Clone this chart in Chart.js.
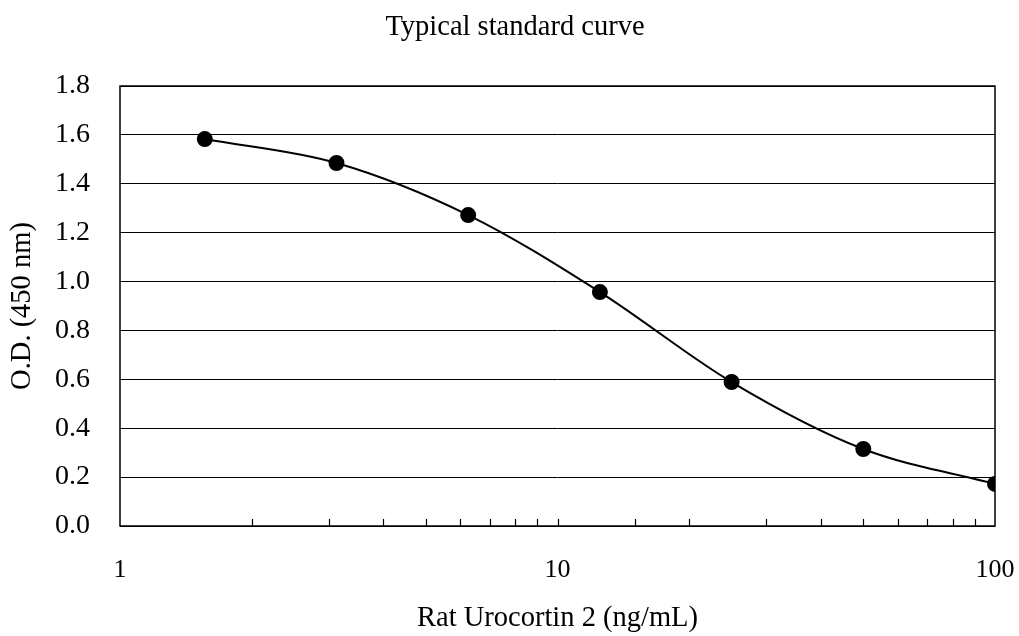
<!DOCTYPE html>
<html>
<head>
<meta charset="utf-8">
<script src="https://cdn.jsdelivr.net/npm/chart.js@4"></script>
<style>
html,body{margin:0;padding:0;background:#fff;}
#wrap{width:1019px;height:636px;}
</style>
</head>
<body>
<div id="wrap"><canvas id="c"></canvas></div>
<script>
/* standard curve data */
const concentrations=[1.5625,3.125,6.25,12.5,25,50,100];
const odValues=[1.583,1.485,1.272,0.957,0.589,0.315,0.172];
const xMajorTicks=[1,10,100];
const yMin=0,yMax=1.8,yStep=0.2;
const chartTitle='Typical standard curve';
const xTitle='Rat Urocortin 2 (ng/mL)';
const yTitle='O.D. (450 nm)';

const serif="'Liberation Serif','Times New Roman',serif";
Chart.defaults.font.family=serif;
Chart.defaults.color='#000';

// title (sits a little right of centre in the original), frame round the plot,
// and the small inward minor ticks on the log axis
const framePlugin={
  id:'frame',
  afterDraw(chart){
    const {ctx,chartArea:a,scales:{x}}=chart;
    ctx.save();
    ctx.fillStyle='#000';
    ctx.font='28.5px '+serif;
    ctx.textAlign='center';ctx.textBaseline='alphabetic';
    ctx.fillText(chartTitle,515,35);
    ctx.strokeStyle='#000';
    ctx.lineWidth=1.5;
    ctx.strokeRect(a.left,a.top,a.right-a.left,a.bottom-a.top);
    ctx.lineWidth=1.2;
    x.ticks.forEach(t=>{
      if(t.value<=x.min||t.value>=x.max)return;
      const px=Math.round(x.getPixelForValue(t.value))+0.5;
      ctx.beginPath();ctx.moveTo(px,a.bottom);ctx.lineTo(px,a.bottom-7);ctx.stroke();
    });
    ctx.restore();
  }
};

new Chart(document.getElementById('c'),{
  type:'line',
  data:{datasets:[{
    data:concentrations.map((c,i)=>({x:c,y:odValues[i]})),
    borderColor:'#000',backgroundColor:'#000',borderWidth:2,
    pointRadius:7,pointHoverRadius:7,pointBackgroundColor:'#000',
    cubicInterpolationMode:'monotone',fill:false
  }]},
  options:{
    responsive:true,maintainAspectRatio:false,animation:false,
    layout:{padding:{left:0,right:24,top:86,bottom:0}},
    plugins:{legend:{display:false},tooltip:{enabled:false},title:{display:false}},
    scales:{
      x:{
        type:'logarithmic',min:1,max:100,
        grid:{display:false},
        border:{display:false},
        ticks:{autoSkip:false,maxRotation:0,padding:21,font:{size:26},
          callback:v=>xMajorTicks.includes(v)?String(v):''},
        title:{display:true,text:xTitle,font:{size:28.5},padding:{top:0,bottom:0}},
        afterFit:s=>{s.height=110;s.paddingLeft=0;s.paddingRight=0;}
      },
      y:{
        min:yMin,max:yMax,
        grid:{color:'#000',lineWidth:1,drawTicks:false},
        border:{display:false},
        ticks:{stepSize:yStep,padding:30,font:{size:28},callback:v=>v.toFixed(1)},
        title:{display:true,text:yTitle,font:{size:28.5},padding:{top:5,bottom:0}},
        afterFit:s=>{s.width=120;s.paddingTop=0;s.paddingBottom=0;}
      }
    }
  },
  plugins:[framePlugin]
});
</script>
</body>
</html>
